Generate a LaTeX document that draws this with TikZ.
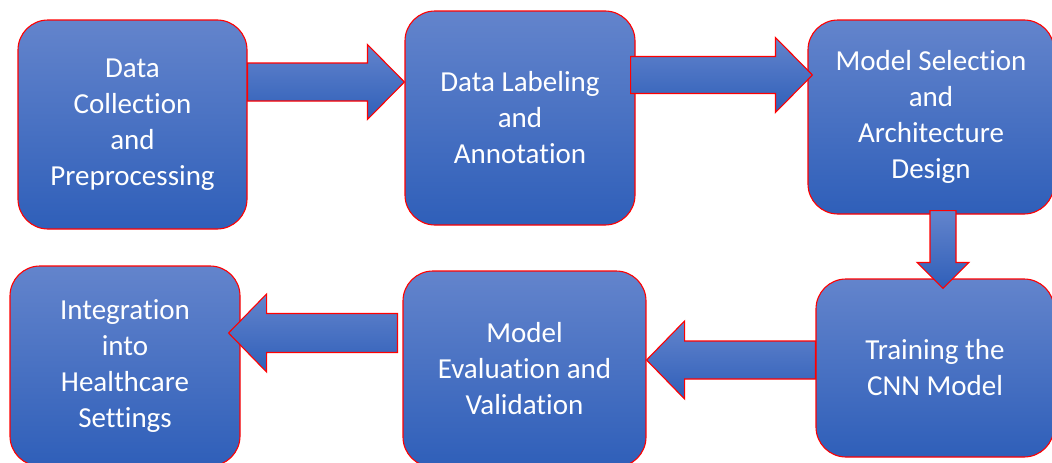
\documentclass[tikz,border=0pt]{standalone}
\usepackage{fontspec}
\setmainfont{Carlito}[Ligatures=NoCommon]
\usetikzlibrary{calc}

\definecolor{stagetop}{RGB}{99,132,204}
\definecolor{stagebot}{RGB}{47,95,185}

\tikzset{
    stagebox/.style={draw=red, line width=1.1pt, rounded corners=30pt,
        top color=stagetop, bottom color=stagebot, text=white,
        align=center, inner sep=0pt,
        font=\fontsize{29}{36}\selectfont},
    flowarrow/.style={draw=red, line width=1.1pt, line join=miter,
        top color=stagetop, bottom color=stagebot}
}

% block arrow: from, to, shaft half width, head half width, head length
\newcommand{\flowarrow}[5]{%
    \coordinate (fa-from) at #1;
    \coordinate (fa-to) at #2;
    \coordinate (fa-base) at ($(fa-to)!#5pt!(fa-from)$);
    \draw[flowarrow] ($(fa-from)!#3pt!90:(fa-to)$)
        -- ($(fa-base)!#3pt!90:(fa-to)$)
        -- ($(fa-base)!#4pt!90:(fa-to)$)
        -- (fa-to)
        -- ($(fa-base)!#4pt!-90:(fa-to)$)
        -- ($(fa-base)!#3pt!-90:(fa-to)$)
        -- ($(fa-from)!#3pt!-90:(fa-to)$) -- cycle;
}

\begin{document}
\begin{tikzpicture}[x=1pt, y=-1pt]
        \useasboundingbox (0,0) rectangle (1052,463);

        \node[stagebox, minimum width=229pt, minimum height=209pt] (dc) at (132.5,124.5)
            {Data\\Collection\\and\\Preprocessing};
        \node[stagebox, minimum width=230pt, minimum height=214pt] (dl) at (520,118)
            {Data Labeling\\and\\Annotation};
        \node[stagebox, minimum width=246pt, minimum height=194pt] (ms) at (931,117)
            {Model Selection\\and\\Architecture\\Design};
        \node[stagebox, minimum width=238pt, minimum height=178pt] (tr) at (935,368)
            {Training the\\CNN Model};
        \node[stagebox, minimum width=243pt, minimum height=196pt] (ev) at (524.5,369)
            {Model\\Evaluation and\\Validation};
        \node[stagebox, minimum width=230pt, minimum height=200pt] (ig) at (125,366)
            {Integration\\into\\Healthcare\\Settings};

        \flowarrow{(dc.east |- 0,82)}{(dl.west |- 0,82)}{19}{37.5}{37}
        \flowarrow{([xshift=-5pt]dl.east |- 0,75)}{([xshift=5pt]ms.west |- 0,75)}{18.5}{37.5}{37}
        \flowarrow{([yshift=4pt]ms.south -| 943,0)}{([yshift=-10pt]tr.north -| 943,0)}{13}{26}{26}
        \flowarrow{(tr.west |- 0,360)}{(ev.east |- 0,360)}{19}{39}{38}
        \flowarrow{([xshift=-5pt]ev.west |- 0,333)}{([xshift=-12pt]ig.east |- 0,333)}{19.5}{39}{38}
    \end{tikzpicture}
\end{document}
